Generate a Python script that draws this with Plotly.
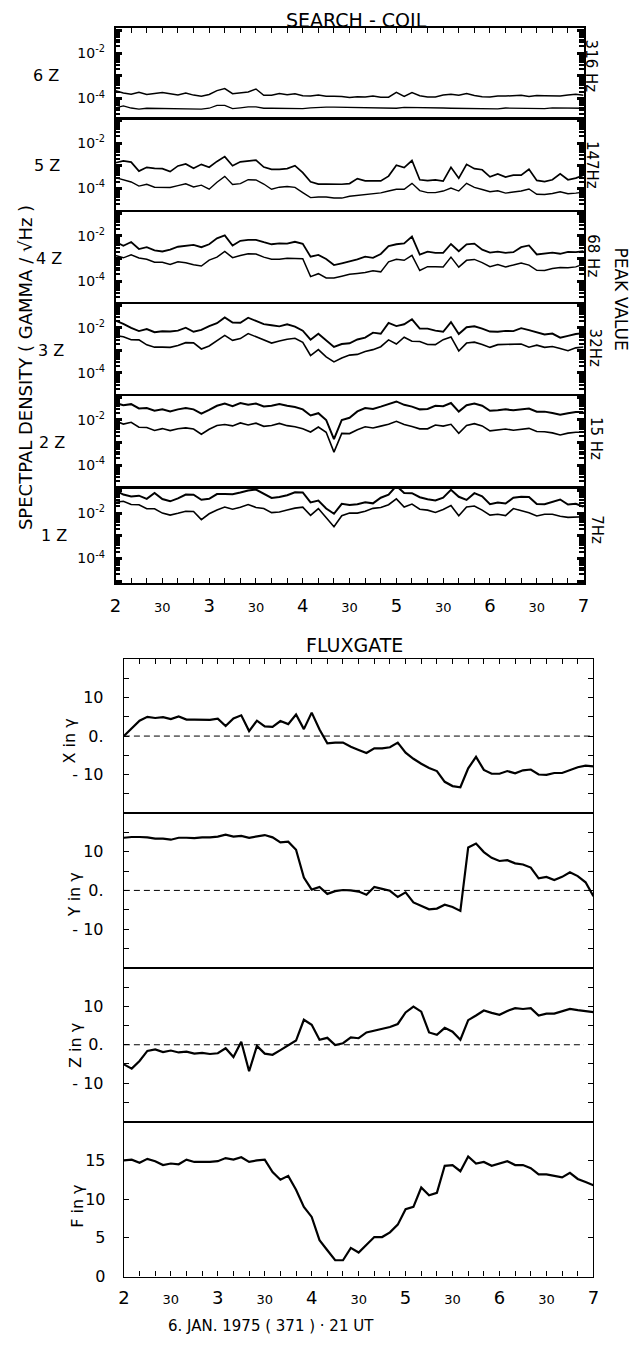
import plotly.graph_objects as go

W, H = 638, 1349
OFF = 8  # the page body margin that shifts the drawn figure
FONT = "DejaVu Sans"

# ---------------- time base (hours UT, 5-minute samples 02:00 - 07:00) ----------------
minutes = list(range(0, 301, 5))
time_h = [2 + m / 60 for m in minutes]

# ---------------- SEARCH-COIL: log10 of spectral density (gamma / sqrt(Hz)) ----------------
sc6_upper = [-3.66,-3.76,-3.81,-3.72,-3.82,-3.78,-3.74,-3.79,-3.84,-3.76,
             -3.85,-3.90,-3.82,-3.65,-3.56,-3.79,-3.75,-3.71,-3.58,-3.86,
             -3.86,-3.78,-3.83,-3.79,-3.88,-3.89,-3.85,-3.90,-3.90,-3.91,
             -3.96,-3.92,-3.93,-3.89,-3.94,-3.94,-3.73,-3.91,-3.74,-3.88,
             -3.93,-3.93,-3.85,-3.81,-3.86,-3.78,-3.87,-3.92,-3.93,-3.89,
             -3.89,-3.86,-3.86,-3.91,-3.87,-3.88,-3.88,-3.89,-3.85,-3.81,-3.86]
sc6_lower = [-4.41,-4.33,-4.42,-4.47,-4.43,-4.44,-4.44,-4.45,-4.45,-4.46,
             -4.46,-4.47,-4.43,-4.30,-4.30,-4.45,-4.41,-4.37,-4.37,-4.43,
             -4.43,-4.44,-4.44,-4.45,-4.45,-4.41,-4.38,-4.38,-4.38,-4.39,
             -4.39,-4.40,-4.41,-4.41,-4.42,-4.42,-4.43,-4.39,-4.39,-4.40,
             -4.41,-4.41,-4.42,-4.43,-4.43,-4.43,-4.44,-4.45,-4.45,-4.46,
             -4.42,-4.43,-4.43,-4.44,-4.44,-4.45,-4.41,-4.41,-4.42,-4.43,-4.43]
sc5_upper = [-2.87,-2.79,-2.84,-3.24,-3.07,-3.12,-3.13,-3.26,-3.01,-2.92,
             -3.11,-2.94,-3.07,-2.81,-2.60,-3.00,-2.83,-2.79,-2.75,-3.06,
             -3.16,-3.16,-3.13,-3.00,-3.31,-3.71,-3.81,-3.81,-3.82,-3.82,
             -3.79,-3.57,-3.67,-3.67,-3.67,-3.46,-2.98,-3.08,-2.77,-3.62,
             -3.66,-3.63,-3.68,-3.07,-3.55,-2.94,-3.13,-3.18,-3.49,-3.36,
             -3.50,-3.42,-3.42,-3.16,-3.65,-3.70,-3.62,-3.36,-3.62,-3.55,-3.42]
sc5_lower = [-3.53,-3.62,-3.72,-3.90,-3.82,-3.95,-3.96,-3.96,-3.88,-3.80,
             -3.94,-3.86,-4.04,-3.73,-3.47,-3.83,-3.79,-3.62,-3.63,-3.81,
             -4.04,-3.95,-3.92,-3.96,-4.19,-4.41,-4.38,-4.38,-4.43,-4.43,
             -4.35,-4.32,-4.28,-4.24,-4.20,-4.12,-4.04,-4.04,-3.78,-4.10,
             -4.19,-4.19,-4.12,-3.99,-4.12,-3.78,-3.96,-4.05,-4.15,-4.11,
             -4.21,-4.16,-4.12,-4.03,-4.26,-4.27,-4.23,-4.15,-4.24,-4.21,-4.17]
sc4_upper = [-2.26,-2.44,-2.27,-2.58,-2.50,-2.64,-2.69,-2.61,-2.48,-2.44,
             -2.40,-2.50,-2.37,-2.11,-1.98,-2.43,-2.22,-2.18,-2.18,-2.28,
             -2.37,-2.33,-2.34,-2.26,-2.35,-2.92,-2.84,-3.02,-3.29,-3.21,
             -3.13,-3.04,-2.92,-2.97,-2.80,-2.45,-2.37,-2.33,-2.03,-2.83,
             -2.70,-2.75,-2.75,-2.36,-2.68,-2.37,-2.34,-2.61,-2.74,-2.70,
             -2.75,-2.72,-2.50,-2.42,-2.82,-2.78,-2.74,-2.79,-2.71,-2.72,-2.68]
sc4_lower = [-2.87,-2.97,-2.84,-2.98,-3.03,-3.16,-3.17,-3.26,-3.14,-3.19,
             -3.28,-3.33,-3.07,-2.94,-2.69,-2.96,-2.87,-2.79,-2.80,-2.94,
             -3.03,-3.03,-2.99,-3.00,-3.01,-3.80,-3.67,-3.86,-3.86,-3.78,
             -3.70,-3.66,-3.62,-3.54,-3.59,-3.15,-3.03,-3.08,-2.86,-3.53,
             -3.36,-3.36,-3.37,-2.94,-3.38,-3.08,-3.04,-3.18,-3.36,-3.27,
             -3.37,-3.29,-3.20,-3.29,-3.52,-3.53,-3.44,-3.40,-3.41,-3.37,-3.25]
sc3_upper = [-1.69,-1.83,-2.01,-2.15,-2.06,-2.20,-2.16,-2.17,-2.13,-2.00,
             -2.18,-2.10,-1.93,-1.80,-1.55,-1.77,-1.78,-1.56,-1.70,-1.84,
             -1.89,-1.94,-1.85,-1.95,-2.13,-2.53,-2.27,-2.54,-2.85,-2.72,
             -2.69,-2.52,-2.44,-2.22,-2.27,-1.79,-1.93,-1.85,-1.63,-2.04,
             -2.04,-2.13,-2.18,-1.75,-2.28,-1.98,-1.94,-2.04,-2.17,-2.18,
             -2.14,-2.15,-2.02,-2.11,-2.20,-2.30,-2.26,-2.44,-2.36,-2.28,-2.24]
sc3_lower = [-2.35,-2.40,-2.53,-2.54,-2.76,-2.86,-2.86,-2.87,-2.79,-2.66,
             -2.67,-2.94,-2.81,-2.59,-2.34,-2.56,-2.48,-2.26,-2.40,-2.54,
             -2.68,-2.59,-2.51,-2.47,-2.65,-3.23,-2.97,-3.29,-3.51,-3.34,
             -3.21,-3.18,-3.05,-2.97,-2.84,-2.54,-2.72,-2.42,-2.60,-2.61,
             -2.74,-2.75,-2.53,-2.41,-3.03,-2.68,-2.64,-2.74,-2.87,-2.75,
             -2.75,-2.72,-2.72,-2.86,-2.77,-2.87,-2.83,-2.92,-3.02,-2.89,-2.85]
sc2_upper = [-1.25,-1.35,-1.30,-1.49,-1.47,-1.59,-1.53,-1.62,-1.53,-1.47,
             -1.53,-1.72,-1.55,-1.37,-1.27,-1.39,-1.25,-1.33,-1.27,-1.40,
             -1.37,-1.29,-1.37,-1.43,-1.53,-1.80,-1.70,-2.00,-2.85,-2.00,
             -1.90,-1.62,-1.47,-1.51,-1.41,-1.31,-1.18,-1.33,-1.41,-1.53,
             -1.51,-1.37,-1.39,-1.25,-1.63,-1.35,-1.27,-1.37,-1.59,-1.57,
             -1.53,-1.57,-1.53,-1.49,-1.63,-1.63,-1.69,-1.77,-1.70,-1.65,-1.65]
sc2_lower = [-2.04,-2.18,-2.10,-2.32,-2.33,-2.46,-2.38,-2.47,-2.39,-2.35,
             -2.40,-2.63,-2.41,-2.24,-2.20,-2.26,-2.13,-2.22,-2.14,-2.28,
             -2.24,-2.15,-2.25,-2.30,-2.39,-2.53,-2.31,-2.54,-3.42,-2.59,
             -2.60,-2.43,-2.30,-2.35,-2.27,-2.19,-2.06,-2.20,-2.29,-2.39,
             -2.39,-2.22,-2.27,-2.19,-2.59,-2.24,-2.16,-2.26,-2.48,-2.44,
             -2.40,-2.45,-2.41,-2.37,-2.51,-2.52,-2.57,-2.66,-2.58,-2.54,-2.54]
sc1_upper = [-0.99,-1.17,-1.26,-1.22,-1.36,-1.10,-1.37,-1.47,-1.34,-1.17,
             -1.18,-1.40,-1.36,-1.15,-1.15,-1.16,-1.08,-0.99,-0.95,-1.14,
             -1.32,-1.28,-1.20,-1.07,-1.08,-1.52,-1.44,-1.79,-2.02,-1.58,
             -1.63,-1.60,-1.51,-1.56,-1.31,-1.18,-0.79,-1.10,-1.11,-1.29,
             -1.38,-1.43,-1.31,-0.96,-1.27,-1.41,-1.11,-1.25,-1.60,-1.52,
             -1.57,-1.31,-1.27,-1.28,-1.59,-1.60,-1.51,-1.39,-1.61,-1.58,-1.71]
sc1_lower = [-1.51,-1.47,-1.61,-1.62,-1.80,-1.80,-1.99,-2.08,-2.00,-1.91,
             -1.92,-2.28,-2.02,-1.85,-1.72,-1.82,-1.73,-1.61,-1.74,-1.79,
             -1.97,-1.94,-1.85,-1.77,-1.73,-2.09,-1.79,-2.19,-2.59,-2.11,
             -1.99,-1.99,-1.91,-1.78,-1.74,-1.62,-1.36,-1.72,-1.59,-1.82,
             -1.86,-1.96,-1.83,-1.66,-2.11,-1.72,-1.68,-1.86,-2.08,-2.04,
             -2.10,-1.79,-1.89,-1.98,-2.12,-2.04,-2.04,-2.13,-2.18,-2.15,-2.15]

sc_names = ["6 Z", "5 Z", "4 Z", "3 Z", "2 Z", "1 Z"]
sc_freqs = ["316 Hz", "147Hz", "68 Hz", "32Hz", "15 Hz", "7Hz"]
sc_upper = [sc6_upper, sc5_upper, sc4_upper, sc3_upper, sc2_upper, sc1_upper]
sc_lower = [sc6_lower, sc5_lower, sc4_lower, sc3_lower, sc2_lower, sc1_lower]

# ---------------- FLUXGATE: field components in gamma ----------------
fg_x = [0.0,2.0,4.0,5.0,4.7,4.9,4.4,5.1,4.3,4.3,
        4.3,4.2,4.5,2.6,4.6,5.4,1.3,4.0,2.5,2.4,
        3.9,3.1,5.6,1.8,6.1,1.7,-1.9,-1.7,-1.7,-2.8,
        -3.6,-4.4,-3.2,-3.2,-2.9,-1.7,-4.3,-5.9,-7.2,-8.3,
        -9.1,-11.9,-13.0,-13.3,-8.4,-5.4,-8.8,-9.8,-9.8,-9.1,
        -9.7,-8.9,-8.7,-10.0,-10.1,-9.6,-9.6,-8.9,-8.1,-7.7,-7.9]
fg_y = [13.6,13.8,13.8,13.7,13.4,13.4,13.1,13.6,13.6,13.5,
        13.7,13.7,13.9,14.4,13.9,14.1,13.6,14.0,14.3,13.7,
        12.4,12.6,10.5,3.3,0.2,0.9,-0.9,-0.2,0.1,0.0,
        -0.3,-1.1,0.9,0.4,-0.1,-1.7,-0.5,-3.1,-4.1,-4.9,
        -4.7,-3.7,-4.3,-5.3,11.1,12.1,9.9,8.4,7.6,7.8,
        7.0,6.7,5.9,3.1,3.5,2.7,3.5,4.7,3.7,2.1,-1.5]
fg_z = [-5.1,-6.2,-4.2,-1.6,-1.2,-1.9,-1.5,-2.0,-1.8,-2.3,
        -2.1,-2.4,-2.2,-0.9,-3.2,0.8,-6.9,-0.3,-2.3,-2.6,
        -1.4,-0.1,1.1,6.5,5.2,1.3,1.8,-0.1,0.4,1.9,
        1.7,3.2,3.7,4.2,4.6,5.4,8.4,9.9,8.6,3.2,
        2.6,4.4,3.4,1.3,6.4,7.6,8.9,8.3,7.8,8.8,
        9.5,9.3,9.5,7.6,8.1,8.1,8.6,9.3,9.0,8.7,8.5]
fg_f = [15.0,15.1,14.7,15.2,14.9,14.4,14.6,14.5,15.1,14.8,
        14.8,14.8,14.9,15.3,15.1,15.4,14.8,15.0,15.1,13.5,
        12.5,13.0,11.2,9.0,7.7,4.7,3.4,2.1,2.1,3.7,
        3.1,4.1,5.1,5.1,5.7,6.7,8.7,9.0,11.5,10.5,
        10.8,14.3,14.4,13.6,15.5,14.6,14.8,14.3,14.6,14.9,
        14.4,14.4,14.0,13.2,13.2,13.0,12.8,13.4,12.6,12.2,11.8]

fg_names = ["X in \u03b3", "Y in \u03b3", "Z in \u03b3", "F in \u03b3"]
fg_series = [fg_x, fg_y, fg_z, fg_f]

# x tick labels
hour_labels = ["2", "3", "4", "5", "6", "7"]
half_label = "30"

# ---------------- layout helpers ----------------
def pxx(px):
    return (px - OFF) / W

def py(px):
    return 1 - (px - OFF) / H

def axid(n, letter):
    return letter if n == 1 else f"{letter}{n}"

ten_min = [2 + k / 6 for k in range(31)]
tick_text = []
for k in range(31):
    if k % 6 == 0:
        tick_text.append(hour_labels[k // 6])
    elif k % 3 == 0:
        tick_text.append(f'<span style="font-size:13px">{half_label}</span>')
    else:
        tick_text.append("")

minor_log = [m * 10.0 ** e for e in range(-6, 0) for m in range(2, 10)]

sc_bounds = [28.5, 119, 212.5, 305, 398, 492, 587.5]
fg_bounds = [664, 819, 975, 1130, 1286]
sc_dom = [pxx(111.5), pxx(588.5)]
fg_dom = [pxx(120), pxx(598.5)]

fig = go.Figure()
layout = {}
annotations = []
shapes = []

def note(text, x, y, size, angle=0, **kw):
    d = dict(text=text, xref="paper", yref="paper", x=pxx(x), y=py(y), textangle=angle,
             showarrow=False, xanchor="center", yanchor="middle", borderpad=0,
             font=dict(family=FONT, size=size, color="black"))
    d.update(kw)
    return d

base_x = dict(range=[2, 7], showline=True, mirror=True, linecolor="black", linewidth=1.1,
              showgrid=False, zeroline=False, ticks="", showticklabels=False,
              tickmode="array", tickvals=ten_min, ticklen=5, tickwidth=1.3, tickcolor="black")

# ---- search coil panels ----
sc_label_x = [41, 42, 44, 46, 47, 49]
sc_freq_pos = [(596, 67), (597, 166), (598, 258), (600, 350), (601, 442), (602, 534)]
sc_widths = [(1.5, 1.3), (1.7, 1.4), (1.8, 1.5), (1.9, 1.6), (2.0, 1.6), (2.0, 1.6)]
for i in range(6):
    n = i + 1
    top, bot = sc_bounds[i], sc_bounds[i + 1]
    lo = -0.9 - (bot - top) / 22.8
    xa = dict(base_x, domain=sc_dom, anchor=axid(n, "y"))
    if i == 0:
        xa.update(side="top", ticks="inside", linewidth=1.6)
    if i == 5:
        xa.update(ticks="inside", showticklabels=True, ticktext=tick_text, linewidth=1.6,
                  tickfont=dict(family=FONT, size=18, color="black"), ticklabelstandoff=5)
    ya = dict(domain=[py(bot), py(top)], anchor=axid(n, "x"), type="log", range=[lo, -0.9],
              showline=True, mirror="allticks", linecolor="black", linewidth=1.6,
              showgrid=False, zeroline=False, ticks="inside", ticklen=7, tickwidth=2.5,
              tickcolor="black", tickmode="array",
              tickvals=[1e-5, 1e-4, 1e-3, 1e-2, 1e-1],
              ticktext=["", "10<sup>-4</sup>", "", "10<sup>-2</sup>", ""],
              tickfont=dict(family=FONT, size=14, color="black"), ticklabelstandoff=6,
              minor=dict(ticks="inside", ticklen=5, tickwidth=2, tickcolor="black",
                         tickmode="array", tickvals=minor_log))
    layout["xaxis" if n == 1 else f"xaxis{n}"] = xa
    layout["yaxis" if n == 1 else f"yaxis{n}"] = ya
    for series, wdt in ((sc_upper[i], sc_widths[i][0]), (sc_lower[i], sc_widths[i][1])):
        fig.add_trace(go.Scatter(x=time_h, y=[10 ** v for v in series],
                                 xaxis=axid(n, "x"), yaxis=axid(n, "y"), mode="lines",
                                 line=dict(color="black", width=wdt),
                                 showlegend=False, hoverinfo="skip"))
    annotations.append(dict(text=sc_names[i], xref="paper", yref=axid(n, "y"),
                            x=pxx(sc_label_x[i]), y=-3, showarrow=False,
                            xanchor="center", yanchor="middle",
                            font=dict(family=FONT, size=16, color="black")))
    fx, fy = sc_freq_pos[i]
    annotations.append(note(sc_freqs[i], fx, fy, 15, 90))

# ---- fluxgate panels ----
fg_label_pos = [(65, 746), (70, 901), (70, 1053), (72, 1215)]
for j in range(4):
    n = 7 + j
    top, bot = fg_bounds[j], fg_bounds[j + 1]
    xa = dict(base_x, domain=fg_dom, anchor=axid(n, "y"))
    if j == 0:
        xa.update(side="top", ticks="inside", linewidth=1.4)
    if j == 3:
        xa.update(ticks="inside", showticklabels=True, ticktext=tick_text, linewidth=1.4,
                  tickfont=dict(family=FONT, size=18, color="black"), ticklabelstandoff=5)
    if j < 3:
        yr = [-20, 20]
        tv = [-15, -10, -5, 0, 5, 10, 15]
        tt = ["", "- 10", "", "0.", "", "10", ""]
        stand = 16
    else:
        yr = [0, 20]
        tv = [0, 5, 10, 15]
        tt = ["0", "5", "10", "15"]
        stand = 14
    ya = dict(domain=[py(bot), py(top)], anchor=axid(n, "x"), range=yr,
              showline=True, mirror="allticks", linecolor="black", linewidth=1.4,
              showgrid=False, zeroline=False, ticks="inside", ticklen=5, tickwidth=1.3,
              tickcolor="black", tickmode="array", tickvals=tv, ticktext=tt,
              tickfont=dict(family=FONT, size=16, color="black"), ticklabelstandoff=stand)
    layout[f"xaxis{n}"] = xa
    layout[f"yaxis{n}"] = ya
    fig.add_trace(go.Scatter(x=time_h, y=fg_series[j], xaxis=f"x{n}", yaxis=f"y{n}",
                             mode="lines", line=dict(color="black", width=2.2),
                             showlegend=False, hoverinfo="skip"))
    if j < 3:
        shapes.append(dict(type="line", xref=f"x{n} domain", yref=f"y{n}", x0=0,
                           x1=1 if j < 2 else 0.98, y0=0, y1=0,
                           line=dict(color="black", width=1, dash="6px,4px")))
    lx, ly = fg_label_pos[j]
    annotations.append(note(fg_names[j], lx, ly, 16, -90))

# ---- titles and side labels ----
annotations += [
    note("SEARCH - COIL", 357, 20, 19),
    note("FLUXGATE", 355, 650, 19),
    note("SPECTPAL DENSITY ( GAMMA / \u221aHz )", 20, 370, 18, -90),
    note("PEAK VALUE", 627, 301, 17, 90),
    note("6. JAN. 1975 ( 371 ) \u00b7 21 UT", 270, 1336, 15),
]

fig.update_layout(width=W, height=H, margin=dict(l=0, r=0, t=0, b=0),
                  paper_bgcolor="white", plot_bgcolor="white",
                  font=dict(family=FONT, color="black"),
                  annotations=annotations, shapes=shapes, showlegend=False, **layout)

fig.write_html("out.html")
